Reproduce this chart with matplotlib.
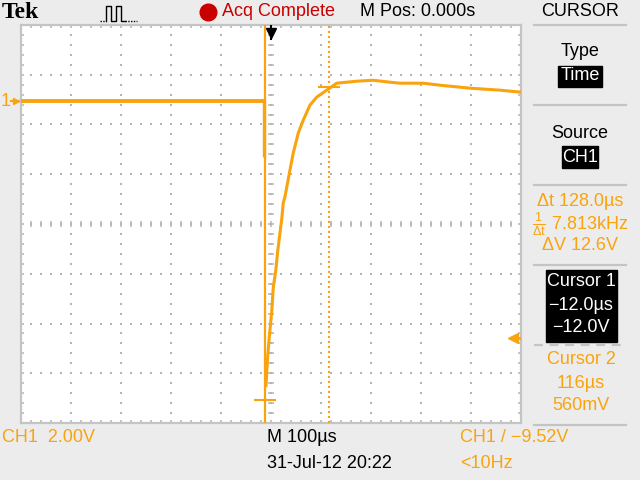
import numpy as np
import matplotlib.pyplot as plt

# CH1 trace (time in us, voltage in V)
pre_t = [-500, -250, -15]
pre_v = [0.0, 0.0, 0.0]
spike_t = [-14, -14]
spike_v = [0.0, -2.24]
rise_t = [-10, -7, -3.4, 1.4, 4.6, 9.4, 13.4, 18, 21.4, 24.6, 28, 38, 44.6,
          54.6, 64.6, 78, 91.4, 111.4, 131.4, 171.4, 204, 238, 258, 304, 338,
          398, 458, 500]
rise_v = [-11.44, -10.36, -9.48, -8.48, -7.48, -6.84, -6.04, -5.28, -4.76,
          -4.08, -3.84, -2.76, -2.08, -1.28, -0.76, -0.16, 0.16, 0.44, 0.72,
          0.80, 0.84, 0.76, 0.72, 0.72, 0.64, 0.52, 0.44, 0.36]

cursor1_t, cursor1_v = -12.0, -12.0
cursor2_t, cursor2_v = 116.0, 0.56
trig_level = -9.52

# screen settings
us_per_div = 100
v_per_div = 2.0
gnd_div = 2.47  # ground marker above centre, in divisions

ORANGE = "#f9a30f"
GRID = "#b4b4b4"
BG = "#ececec"
FS = 13

plt.rcParams["font.family"] = ["Liberation Sans", "DejaVu Sans"]
plt.rcParams["mathtext.fontset"] = "custom"
plt.rcParams["mathtext.rm"] = "Liberation Sans"
plt.rcParams["mathtext.it"] = "Liberation Sans"

fig = plt.figure(figsize=(6.4, 4.8), dpi=100, facecolor=BG)

# full-figure layer in pixel coords for the screen furniture
bg = fig.add_axes([0, 0, 1, 1])
bg.set_xlim(0, 640)
bg.set_ylim(480, 0)
bg.axis("off")

# graticule axes: x 21..521 px, y 25..423 px
L, R, T, B = 21, 521, 25, 423
ax = fig.add_axes([L / 640, 1 - B / 480, (R - L) / 640, (B - T) / 480])
ax.set_facecolor("white")
vc = -gnd_div * v_per_div
ax.set_xlim(-5 * us_per_div, 5 * us_per_div)
ax.set_ylim(vc - 4 * v_per_div, vc + 4 * v_per_div)
ax.set_xticks([])
ax.set_yticks([])
for s in ax.spines.values():
    s.set_color("#c4c4c4")
    s.set_linewidth(1.6)

x0, x1 = ax.get_xlim()
y0, y1 = ax.get_ylim()
dx = us_per_div / 5
dy = v_per_div / 5
px_x = us_per_div / 50
px_y = v_per_div / 49.75

# dotted division lines
xs_fine = np.arange(x0, x1 + 1e-6, dx)
ys_fine = vc + np.arange(-20, 21) * dy
for k in range(-4, 5):
    xm = k * us_per_div
    ax.plot(np.full_like(ys_fine, xm), ys_fine, "s", color=GRID, ms=1.5, mew=0, zorder=1)
for k in range(-3, 4):
    ym = vc + k * v_per_div
    ax.plot(xs_fine, np.full_like(xs_fine, ym), "s", color=GRID, ms=1.5, mew=0, zorder=1)

# border and centre ticks
tick_len_y = 3 * px_y
tick_len_x = 3 * px_x
ax.vlines(xs_fine, y1 - tick_len_y, y1, color=GRID, lw=1.1, zorder=1)
ax.vlines(xs_fine, y0, y0 + tick_len_y, color=GRID, lw=1.1, zorder=1)
ax.hlines(ys_fine, x0, x0 + tick_len_x, color=GRID, lw=1.1, zorder=1)
ax.hlines(ys_fine, x1 - tick_len_x, x1, color=GRID, lw=1.1, zorder=1)
ax.vlines(xs_fine, vc - tick_len_y, vc + tick_len_y, color=GRID, lw=1.1, zorder=1)
ax.hlines(ys_fine, -tick_len_x, tick_len_x, color=GRID, lw=1.1, zorder=1)

# trace
ax.plot(pre_t, pre_v, color=ORANGE, lw=2.8, solid_capstyle="butt", zorder=4)
ax.plot(spike_t, spike_v, color=ORANGE, lw=2.4, solid_capstyle="butt", zorder=4)
ax.plot(rise_t, rise_v, color=ORANGE, lw=2.2, zorder=4)

# cursors
ax.axvline(cursor1_t, color=ORANGE, lw=1.6, zorder=3)
ax.axvline(cursor2_t, color=ORANGE, lw=1.5, ls=(0, (1, 1.4)), zorder=3)
ax.hlines(cursor1_v, cursor1_t - 22, cursor1_t + 22, color=ORANGE, lw=1.5, zorder=3)
ax.hlines(cursor2_v, cursor2_t - 22, cursor2_t + 22, color=ORANGE, lw=1.5, zorder=3)

# trigger position marker at top
ax.plot([0, 0], [y1, y1 - 14 * px_y], color="black", lw=1.5, zorder=5)
ax.plot([0], [y1 - 8 * px_y], marker="v", color="black", ms=7, zorder=5)

# trigger level arrow at right edge
ax.plot([x1 - 8 * px_x], [trig_level], marker="<", color=ORANGE, ms=7, clip_on=False, zorder=5)
ax.plot([x1 - 8 * px_x, x1], [trig_level, trig_level], color=ORANGE, lw=2, zorder=5)

# ground marker at left
bg.text(1, 101, "1", color=ORANGE, fontsize=FS, ha="left", va="center")
bg.plot([11, 20], [101, 101], color=ORANGE, lw=1.5)
bg.plot([16], [101], marker=">", color=ORANGE, ms=5)

# header
bg.text(2, 12, "Tek", family="Liberation Serif", weight="bold", fontsize=17,
        ha="left", va="center")
bg.plot([100, 106], [21, 21], color="black", lw=1, ls=(0, (1, 1)))
bg.plot([106, 106, 111, 111, 116, 116, 121, 121, 125, 125],
        [21, 6, 6, 21, 21, 6, 6, 21, 21, 21], color="black", lw=1)
bg.plot([125, 137], [21, 21], color="black", lw=1, ls=(0, (1, 1)))
bg.plot([208], [12], marker="o", color="#c80000", ms=12)
bg.text(222, 12, "Acq Complete", color="#c80000", fontsize=FS, ha="left", va="center")
bg.text(360, 12, "M Pos: 0.000s", color="black", fontsize=FS, ha="left", va="center")
bg.text(580, 12, "CURSOR", color="black", fontsize=FS, ha="center", va="center")

# side menu
for ysep in [25, 105, 185, 265, 425]:
    bg.plot([534, 626], [ysep, ysep], color="#c4c4c4", lw=1.6)
bg.plot([534, 626], [345, 345], color="#c4c4c4", lw=1.6, ls=(0, (4, 3)))

bg.text(580, 52, "Type", fontsize=FS, ha="center", va="center")
bg.add_patch(plt.Rectangle((558, 66), 44, 21, color="black"))
bg.text(580, 76, "Time", color="white", fontsize=FS, ha="center", va="center")
bg.text(580, 133, "Source", fontsize=FS, ha="center", va="center")
bg.add_patch(plt.Rectangle((562, 146), 36, 22, color="black"))
bg.text(580, 157, "CH1", color="white", fontsize=FS, ha="center", va="center")

bg.text(580, 201, "\u0394t 128.0\u00b5s", color=ORANGE, fontsize=FS, ha="center", va="center")
bg.text(580, 224, r"$\frac{1}{\Delta t}$ 7.813kHz", color=ORANGE, fontsize=FS, ha="center", va="center")
bg.text(580, 246, "\u0394V 12.6V", color=ORANGE, fontsize=FS, ha="center", va="center")

bg.add_patch(plt.Rectangle((546, 270), 71, 72, color="black"))
bg.text(581, 282, "Cursor 1", color="white", fontsize=FS, ha="center", va="center")
bg.text(581, 305, "\u221212.0\u00b5s", color="white", fontsize=FS, ha="center", va="center")
bg.text(581, 328, "\u221212.0V", color="white", fontsize=FS, ha="center", va="center")

bg.text(581, 360, "Cursor 2", color=ORANGE, fontsize=FS, ha="center", va="center")
bg.text(581, 383, "116\u00b5s", color=ORANGE, fontsize=FS, ha="center", va="center")
bg.text(581, 406, "560mV", color=ORANGE, fontsize=FS, ha="center", va="center")

# footer
bg.text(2, 437, "CH1  2.00V", color=ORANGE, fontsize=FS, ha="left", va="center")
bg.text(267, 437, "M 100\u00b5s", color="black", fontsize=FS, ha="left", va="center")
bg.text(460, 437, "CH1 / \u22129.52V", color=ORANGE, fontsize=FS, ha="left", va="center")
bg.text(267, 464, "31-Jul-12 20:22", color="black", fontsize=FS, ha="left", va="center")
bg.text(460, 464, "<10Hz", color=ORANGE, fontsize=FS, ha="left", va="center")

fig.savefig("out.png", dpi=100, facecolor=BG)
